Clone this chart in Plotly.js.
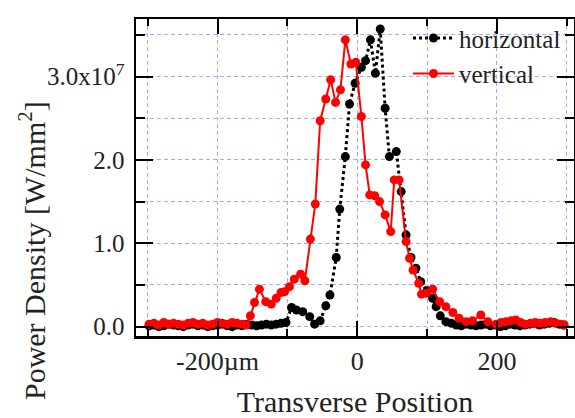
<!DOCTYPE html>
<html>
<head>
<meta charset="utf-8">
<script src="https://cdn.plot.ly/plotly-3.0.1.min.js"></script>
<style>
  html, body { margin: 0; padding: 0; background: #fff; }
  #plot { width: 575px; height: 418px; }
</style>
</head>
<body>
<div id="plot"></div>
<script>
// Transverse beam profile: power density (units of 1e7 W/mm^2) vs position (µm)
const horizontalX = [
  -298, -291, -284, -277, -270, -263, -256, -249, -242, -235, -228, -221, -214, -207,
  -200, -193, -186, -179, -172, -165, -158, -151, -144, -137, -130, -123, -116, -109,
  -102, -94, -87, -78, -68, -61, -53, -45, -39, -30, -25, -17, -11, -3,
  6, 12, 19, 26, 33, 40, 46, 56, 63, 70, 77, 84, 91, 100, 108, 113, 119, 127, 135,
  142, 149, 156, 163, 170, 177, 184, 191, 198, 205, 212, 219, 226, 233, 240, 247,
  254, 261, 268, 275, 282, 289, 296
];
const horizontalY = [
  0.01, 0.02, 0.00, 0.01, 0.03, 0.02, 0.01, 0.00, 0.02, 0.03, 0.01, 0.02, 0.00, 0.01,
  0.02, 0.03, 0.01, 0.00, 0.02, 0.01, 0.03, 0.02, 0.01, 0.02, 0.03, 0.02, 0.03, 0.04,
  0.05, 0.23, 0.20, 0.18, 0.12, 0.03, 0.07, 0.25, 0.38, 0.83, 1.41, 2.04, 2.67, 2.92,
  3.11, 3.19, 3.44, 3.04, 3.57, 2.62, 2.04, 2.10, 1.62, 1.10, 0.83, 0.70, 0.54, 0.43, 0.34, 0.24, 0.13, 0.06, 0.04,
  0.02, 0.01, 0.03, 0.02, 0.01, 0.02, 0.03, 0.01, 0.02, 0.00, 0.01, 0.03, 0.02, 0.01, 0.02,
  0.03, 0.04, 0.02, 0.03, 0.04, 0.05, 0.03, 0.02
];

const verticalX = [
  -298, -291, -284, -277, -270, -263, -256, -249, -242, -235, -228, -221, -214, -207,
  -200, -193, -186, -179, -172, -165,
  -159, -153, -147, -140, -131, -123, -116, -109, -104, -97, -90, -81, -75, -67, -60,
  -53, -45, -38, -31, -24, -17, -9, -2, 6, 12, 18, 25, 32, 40, 48, 53, 60,
  70, 75, 80, 88, 92, 99, 108, 118, 127, 137, 146, 156, 165, 177, 187, 199,
  206, 213, 220, 227, 234, 241, 248, 255, 262, 269, 277, 284, 291, 296
];
const verticalY = [
  0.03, 0.04, 0.02, 0.05, 0.03, 0.04, 0.03, 0.02, 0.04, 0.05, 0.03, 0.04, 0.02, 0.03,
  0.05, 0.04, 0.03, 0.05, 0.04, 0.03,
  0.02, 0.13, 0.29, 0.45, 0.30, 0.27, 0.34, 0.41, 0.42, 0.48, 0.57, 0.63, 0.55, 1.05, 1.47,
  2.47, 2.73, 2.96, 2.69, 2.84, 3.44, 3.15, 3.17, 2.52, 1.94, 1.58, 1.57, 1.50, 1.34, 1.14, 1.76, 1.76,
  1.02, 0.82, 0.68, 0.52, 0.39, 0.40, 0.45, 0.30, 0.24, 0.17, 0.10, 0.06, 0.07, 0.14, 0.06, 0.03,
  0.05, 0.06, 0.07, 0.08, 0.05, 0.03, 0.04, 0.05, 0.04, 0.05, 0.06, 0.04, 0.03, 0.02
];

const xTickVals = [-200, 0, 200];
const xTickText = ['-200µm', '0', '200'];
const xMinorVals = [-300, -100, 100, 300];
const yTickVals = [0, 1, 2, 3];
const yTickText = ['0.0', '1.0', '2.0', '3.0x10<sup>7</sup>'];
const yMinorVals = [0.5, 1.5, 2.5, 3.5];
const xTitle = 'Transverse Position';
const yTitle = 'Power Density [W/mm<sup>2</sup>]';

const serif = 'Liberation Serif, Times New Roman, serif';
const gridColor = '#a9a9ef';
const textColor = '#222';

const traces = [
  {
    x: horizontalX, y: horizontalY, name: 'horizontal',
    type: 'scatter', mode: 'lines+markers',
    line: { color: '#000', width: 3, dash: 'dot' },
    marker: { color: '#000', size: 9 }
  },
  {
    x: verticalX, y: verticalY, name: 'vertical',
    type: 'scatter', mode: 'lines+markers',
    line: { color: '#ff0000', width: 2 },
    marker: { color: '#ff0000', size: 9 }
  }
];

const layout = {
  width: 575, height: 418,
  margin: { l: 136, r: 1, t: 19, b: 82 },
  paper_bgcolor: '#fff', plot_bgcolor: '#fff',
  font: { family: serif, color: textColor, size: 26 },
  showlegend: true,
  legend: {
    x: 0.621, y: 1.012, xanchor: 'left', yanchor: 'top',
    bgcolor: 'rgba(255,255,255,0)', borderwidth: 0, itemwidth: 41,
    font: { family: serif, size: 25, color: textColor },
    tracegroupgap: 0
  },
  xaxis: {
    range: [-316.7, 310.4],
    tickmode: 'array', tickvals: xTickVals, ticktext: xTickText,
    tickfont: { family: serif, size: 26, color: textColor },
    ticks: 'inside', ticklen: 15, tickwidth: 2, tickcolor: '#000',
    ticklabelstandoff: 0,
    showline: true, linecolor: '#000', linewidth: 2.5, mirror: 'ticks',
    showgrid: true, gridcolor: gridColor, gridwidth: 1, griddash: '4px,3px',
    zeroline: false,
    minor: {
      tickmode: 'array', tickvals: xMinorVals, ticks: 'inside', ticklen: 7,
      tickwidth: 2, tickcolor: '#000',
      showgrid: true, gridcolor: gridColor, gridwidth: 1, griddash: '4px,3px'
    },
    title: { text: xTitle, font: { family: serif, size: 30, color: textColor }, standoff: 28 }
  },
  yaxis: {
    range: [-0.112, 3.69],
    tickmode: 'array', tickvals: yTickVals, ticktext: yTickText,
    tickfont: { family: serif, size: 25, color: textColor },
    ticks: 'inside', ticklen: 17, tickwidth: 2, tickcolor: '#000',
    ticklabelstandoff: 4,
    showline: true, linecolor: '#000', linewidth: 2.5, mirror: 'ticks',
    showgrid: true, gridcolor: gridColor, gridwidth: 1, griddash: '4px,3px',
    zeroline: false,
    minor: {
      tickmode: 'array', tickvals: yMinorVals, ticks: 'inside', ticklen: 9,
      tickwidth: 2, tickcolor: '#000',
      showgrid: true, gridcolor: gridColor, gridwidth: 1, griddash: '4px,3px'
    }
  },
  // white patch behind the legend hides the grid there but keeps the frame
  shapes: [{
    type: 'rect', xref: 'paper', yref: 'paper', layer: 'between',
    x0: 0.61, x1: 0.979, y0: 0.785, y1: 1,
    fillcolor: '#fff', line: { width: 0 }
  }],
  // vertical axis label, set lower than the plot centre
  annotations: [{
    text: yTitle, textangle: -90,
    xref: 'paper', yref: 'paper', x: -0.236, y: 0.27,
    xanchor: 'center', yanchor: 'middle', showarrow: false,
    font: { family: serif, size: 30, color: textColor }
  }]
};

Plotly.newPlot('plot', traces, layout, { displayModeBar: false, staticPlot: true });
</script>
</body>
</html>
